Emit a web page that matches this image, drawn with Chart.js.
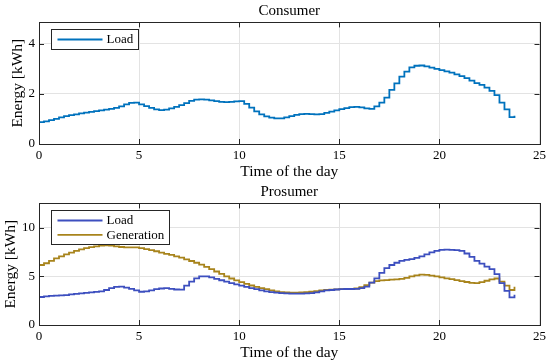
<!DOCTYPE html>
<html>
<head>
<meta charset="utf-8">
<script src="https://cdn.jsdelivr.net/npm/chart.js@4.4.1/dist/chart.umd.min.js"></script>
<style>
  html, body { margin: 0; padding: 0; background: #fff; }
  .panel { width: 550px; height: 181px; }
</style>
</head>
<body>
<div class="panel"><canvas id="consumer" width="550" height="181"></canvas></div>
<div class="panel"><canvas id="prosumer" width="550" height="181"></canvas></div>
<script>
// 15-minute slots over the day, stairs-style
const slotHours = 0.25;

// Consumer load [kWh], 4 slots per hour (h0 .. h23)
const consumerLoad = [
  0.87, 0.90, 0.95, 1.00,  1.06, 1.11, 1.15, 1.18,  1.22, 1.25, 1.28, 1.31,
  1.34, 1.37, 1.40, 1.44,  1.50, 1.58, 1.64, 1.65,  1.58, 1.51, 1.44, 1.38,
  1.35, 1.37, 1.42, 1.48,  1.55, 1.63, 1.72, 1.77,  1.78, 1.77, 1.74, 1.71,
  1.68, 1.67, 1.68, 1.70,  1.71, 1.60, 1.45, 1.30,  1.18, 1.10, 1.05, 1.02,
  1.02, 1.06, 1.11, 1.16,  1.19, 1.20, 1.19, 1.18,  1.19, 1.24, 1.29, 1.34,
  1.39, 1.43, 1.47, 1.48,  1.46, 1.42, 1.40, 1.50,  1.65, 1.85, 2.16, 2.42,
  2.69, 2.89, 3.06, 3.12,  3.13, 3.10, 3.05, 3.00,  2.95, 2.90, 2.85, 2.78,
  2.71, 2.63, 2.53, 2.43,  2.36, 2.25, 2.12, 1.95,  1.65, 1.38, 1.07, 1.13
];

// Prosumer load [kWh]
const prosumerLoad = [
  2.88, 2.95, 3.00, 3.02,  3.05, 3.08, 3.15, 3.20,  3.25, 3.30, 3.35, 3.40,
  3.45, 3.60, 3.80, 3.92,  3.94, 3.85, 3.72, 3.55,  3.42, 3.45, 3.55, 3.68,
  3.75, 3.80, 3.72, 3.65,  3.63, 4.04, 4.45, 4.80,  5.00, 5.00, 4.90, 4.75,
  4.60, 4.45, 4.30, 4.18,  4.05, 3.92, 3.80, 3.68,  3.55, 3.45, 3.38, 3.32,
  3.28, 3.25, 3.22, 3.22,  3.22, 3.25, 3.28, 3.35,  3.45, 3.55, 3.60, 3.65,
  3.68, 3.70, 3.70, 3.72,  3.80, 3.95, 4.35, 4.80,  5.35, 5.85, 6.17, 6.40,
  6.60, 6.70, 6.78, 6.90,  7.05, 7.25, 7.46, 7.62,  7.72, 7.74, 7.72, 7.70,
  7.62, 7.35, 7.00, 6.60,  6.30, 6.00, 5.75, 5.24,  4.30, 3.50, 2.85, 3.10
];

// Prosumer generation [kWh]
const prosumerGen = [
  6.17, 6.35, 6.60, 6.85,  7.05, 7.25, 7.45, 7.62,  7.78, 7.90, 8.00, 8.08,
  8.15, 8.18, 8.15, 8.08,  8.02, 7.98, 7.98, 7.98,  7.90, 7.80, 7.70, 7.58,
  7.45, 7.32, 7.20, 7.05,  6.92, 6.75, 6.58, 6.40,  6.20, 5.98, 5.75, 5.50,
  5.25, 5.00, 4.78, 4.58,  4.40, 4.22, 4.06, 3.92,  3.80, 3.68, 3.56, 3.45,
  3.38, 3.35, 3.33, 3.33,  3.35, 3.38, 3.42, 3.48,  3.55, 3.60, 3.63, 3.66,
  3.68, 3.70, 3.72, 3.75,  3.90, 4.10, 4.35, 4.50,  4.58, 4.62, 4.66, 4.70,
  4.75, 4.85, 5.00, 5.10,  5.18, 5.15, 5.08, 5.00,  4.90, 4.80, 4.72, 4.62,
  4.52, 4.42, 4.34, 4.30,  4.40, 4.55, 4.70, 4.78,  4.45, 4.05, 3.60, 3.92
];

const xTicks = [0, 5, 10, 15, 20, 25];
const consumerYTicks = [0, 2, 4];
const prosumerYTicks = [0, 5, 10];

const FONT = '"Liberation Serif", "Times New Roman", serif';
const AXIS = '#262626';
const GRID = '#e3e3e3';

// box + inward tick marks (MATLAB style), drawn over the lines
const frame = {
  id: 'frame',
  afterDatasetsDraw(chart) {
    const ctx = chart.ctx, a = chart.chartArea;
    const xs = chart.scales.x, ys = chart.scales.y, tl = 5;
    ctx.save();
    ctx.strokeStyle = AXIS;
    ctx.lineWidth = 1;
    ctx.beginPath();
    xs.ticks.forEach(t => {
      const px = Math.round(xs.getPixelForValue(t.value)) + 0.5;
      ctx.moveTo(px, a.bottom); ctx.lineTo(px, a.bottom - tl);
      ctx.moveTo(px, a.top); ctx.lineTo(px, a.top + tl);
    });
    ys.ticks.forEach(t => {
      const py = Math.round(ys.getPixelForValue(t.value)) + 0.5;
      ctx.moveTo(a.left, py); ctx.lineTo(a.left + tl, py);
      ctx.moveTo(a.right, py); ctx.lineTo(a.right - tl, py);
    });
    ctx.stroke();
    ctx.strokeRect(Math.round(a.left) + 0.5, Math.round(a.top) + 0.5,
                   Math.round(a.right - a.left), Math.round(a.bottom - a.top));
    ctx.restore();
  }
};

// legend box inside the upper-left corner
const boxLegend = {
  id: 'boxLegend',
  afterDraw(chart) {
    const ctx = chart.ctx, a = chart.chartArea;
    const sets = chart.data.datasets;
    const rowH = 14.4;
    ctx.save();
    ctx.font = '13px ' + FONT;
    const textW = Math.max(...sets.map(d => ctx.measureText(d.label).width));
    const x0 = Math.round(a.left + 12) + 0.5, y0 = Math.round(a.top + 7) + 0.5;
    const w = Math.round(55 + textW + 5), h = Math.round(sets.length * rowH + 5.6);
    ctx.fillStyle = '#fff';
    ctx.fillRect(x0, y0, w, h);
    ctx.strokeStyle = AXIS;
    ctx.lineWidth = 1;
    ctx.strokeRect(x0, y0, w, h);
    ctx.textBaseline = 'middle';
    sets.forEach((d, i) => {
      const cy = y0 + 2.8 + rowH * (i + 0.5);
      ctx.strokeStyle = d.borderColor;
      ctx.lineWidth = d.borderWidth;
      ctx.beginPath();
      ctx.moveTo(x0 + 6, cy); ctx.lineTo(x0 + 51, cy);
      ctx.stroke();
      ctx.fillStyle = '#000';
      ctx.fillText(d.label, x0 + 55, cy + 0.5);
    });
    ctx.restore();
  }
};

function points(values) {
  return values.map((v, i) => ({ x: i * slotHours, y: v }));
}

function stairs(label, values, color) {
  return {
    label, data: points(values), borderColor: color, borderWidth: 1.8,
    stepped: true, pointRadius: 0, fill: false
  };
}

function panel(id, title, datasets, yMax, yTicks, yTitlePad) {
  return new Chart(document.getElementById(id), {
    type: 'line',
    data: { datasets },
    plugins: [frame, boxLegend],
    options: {
      responsive: false, animation: false, devicePixelRatio: 1,
      layout: { padding: { left: 0, right: 9, top: 0, bottom: 0 } },
      plugins: {
        legend: { display: false },
        tooltip: { enabled: false },
        title: {
          display: true, text: title, color: '#000', fullSize: false,
          font: { family: FONT, size: 15, weight: 'normal' },
          padding: { top: 2, bottom: 2.4 }
        }
      },
      scales: {
        x: {
          type: 'linear', min: 0, max: 25,
          afterBuildTicks: s => { s.ticks = xTicks.map(v => ({ value: v })); },
          afterFit: s => { s.height = 37; },
          grid: { color: GRID, drawTicks: false },
          border: { display: false },
          ticks: { color: '#000', font: { family: FONT, size: 13 }, padding: 4, maxRotation: 0 },
          title: {
            display: true, text: 'Time of the day', color: '#000',
            font: { family: FONT, size: 15.5, lineHeight: 1 }, padding: { top: 0, bottom: 1.5 }
          }
        },
        y: {
          min: 0, max: yMax,
          afterBuildTicks: s => { s.ticks = yTicks.map(v => ({ value: v })); },
          afterFit: s => { s.width = 39; },
          grid: { color: GRID, drawTicks: false },
          border: { display: false },
          ticks: { color: '#000', font: { family: FONT, size: 13 }, padding: 4 },
          title: {
            display: true, text: 'Energy [kWh]', color: '#000',
            font: { family: FONT, size: 15.5, lineHeight: 1 }, padding: { top: yTitlePad, bottom: 0 }
          }
        }
      }
    }
  });
}

panel('consumer', 'Consumer', [stairs('Load', consumerLoad, '#0072BD')], 4.85, consumerYTicks, 10);
panel('prosumer', 'Prosumer', [
  stairs('Load', prosumerLoad, '#3D4FBF'),
  stairs('Generation', prosumerGen, '#A8841C')
], 12.5, prosumerYTicks, 3.5);
</script>
</body>
</html>
